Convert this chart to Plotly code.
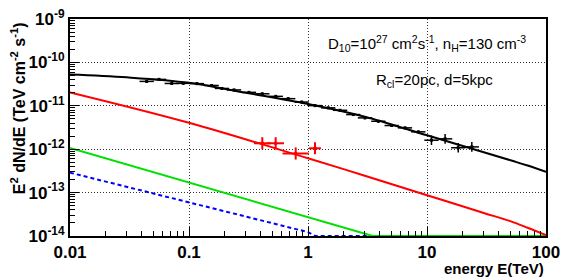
import numpy as np
import plotly.graph_objects as go

# ---------------- data ----------------
# model curves (E in TeV, E^2 dN/dE in TeV cm^-2 s^-1)
total_E = [0.01, 0.03, 0.1, 0.3, 1, 3, 10, 30, 52, 70, 100]
total_F = [5.25e-11, 4.52e-11, 3.39e-11, 2.0e-11, 1.1e-11, 5.6e-12, 2.09e-12,
           8.5e-13, 5.4e-13, 4.2e-13, 3.0e-13]

red_E = [0.01, 0.1, 1, 3, 10, 30, 50, 70, 100]
red_F = [2.04e-11, 4.07e-12, 6.17e-13, 2.45e-13, 8.7e-14, 3.4e-14, 2.2e-14,
         1.55e-14, 1.05e-14]

green_E = [0.01, 0.1, 1, 3.5, 100]
green_F = [1.07e-12, 1.7e-13, 2.63e-14, 1.0e-14, 1.0e-14]

blue_E = [0.01, 0.1, 1, 1.15, 100]
blue_F = [2.88e-13, 5.9e-14, 1.23e-14, 1.0e-14, 1.0e-14]

# black data points
obs_E = [0.0441, 0.056, 0.0716, 0.0895, 0.1167, 0.155, 0.189, 0.239, 0.319,
         0.413, 0.536, 0.682, 0.885, 1.145, 1.48, 1.86, 2.40, 3.01, 3.90,
         5.05, 6.53, 8.45, 10.9, 14.2, 18.3, 23.8]
obs_F = [3.65e-11, 4.06e-11, 3.27e-11, 3.29e-11, 3.24e-11, 2.94e-11, 2.51e-11,
         2.32e-11, 2.04e-11, 1.89e-11, 1.65e-11, 1.46e-11, 1.22e-11, 1.01e-11,
         8.96e-12, 7.88e-12, 6.28e-12, 5.27e-12, 4.4e-12, 3.51e-12, 3.1e-12,
         2.51e-12, 1.61e-12, 1.73e-12, 1.08e-12, 1.13e-12]
obs_dlogE = [0.06] * 22 + [0.06, 0.06, 0.06, 0.06]
obs_dlogF = [0.03] * 22 + [0.11, 0.11, 0.11, 0.11]

# red data points
red_pts_E = [0.413, 0.535, 0.788, 1.145]
red_pts_F = [1.37e-12, 1.37e-12, 7.96e-13, 1.05e-12]
red_dlogE = [0.07, 0.07, 0.11, 0.05]
red_dlogF = [0.14, 0.14, 0.14, 0.14]

x_tickvals = [0.01, 0.1, 1, 10, 100]
x_ticktext = ["0.01", "0.1", "1", "10", "100"]
y_tickvals = [1e-14, 1e-13, 1e-12, 1e-11, 1e-10, 1e-9]
y_ticktext = ["10<sup>-14</sup>", "10<sup>-13</sup>", "10<sup>-12</sup>",
              "10<sup>-11</sup>", "10<sup>-10</sup>", "10<sup>-9</sup>"]


def asym(vals, dlog):
    v = np.array(vals)
    d = np.array(dlog)
    return list(v * (10 ** d - 1)), list(v * (1 - 10 ** (-d)))


FONT = "Liberation Sans"
fig = go.Figure()

fig.add_trace(go.Scatter(x=blue_E, y=blue_F, mode="lines",
                         line=dict(color="#0000ff", width=2, dash="4px,3px")))
fig.add_trace(go.Scatter(x=green_E, y=green_F, mode="lines",
                         line=dict(color="#00e000", width=2)))
fig.add_trace(go.Scatter(x=red_E, y=red_F, mode="lines", line_shape="spline",
                         line=dict(color="#ff0000", width=2)))
fig.add_trace(go.Scatter(x=total_E, y=total_F, mode="lines", line_shape="spline",
                         line=dict(color="black", width=2)))

ep, em = asym(obs_E, obs_dlogE)
fp, fm = asym(obs_F, obs_dlogF)
fig.add_trace(go.Scatter(
    x=obs_E, y=obs_F, mode="markers",
    marker=dict(color="black", size=3, symbol="square"),
    error_x=dict(type="data", array=ep, arrayminus=em, color="black", thickness=1.5, width=0),
    error_y=dict(type="data", array=fp, arrayminus=fm, color="black", thickness=1.5, width=0)))

ep, em = asym(red_pts_E, red_dlogE)
fp, fm = asym(red_pts_F, red_dlogF)
fig.add_trace(go.Scatter(
    x=red_pts_E, y=red_pts_F, mode="markers",
    marker=dict(color="#ff0000", size=3, symbol="square"),
    error_x=dict(type="data", array=ep, arrayminus=em, color="#ff0000", thickness=2, width=0),
    error_y=dict(type="data", array=fp, arrayminus=fm, color="#ff0000", thickness=2, width=0)))

minor_x = [m * 10.0 ** k for k in range(-2, 2) for m in range(2, 10)]
minor_y = [m * 10.0 ** k for k in range(-14, -9) for m in range(2, 10)]

axis_common = dict(type="log", tickmode="array", ticks="inside", ticklen=9, tickwidth=1,
                   tickcolor="black", showline=True, linecolor="black", linewidth=2,
                   mirror=True, showgrid=True, gridcolor="#333333", griddash="1px,2px",
                   gridwidth=1, zeroline=False, automargin=False,
                   ticklabeloverflow="allow",
                   tickfont=dict(family=FONT, size=17, color="black"))

fig.update_xaxes(range=[-2, 2], tickvals=x_tickvals,
                 ticktext=["<b>%s</b>" % t for t in x_ticktext],
                 minor=dict(tickmode="array", tickvals=minor_x, ticks="inside",
                            ticklen=5, tickcolor="black", showgrid=False),
                 **axis_common)
fig.update_yaxes(range=[-14, -9], tickvals=y_tickvals,
                 ticktext=["<b>%s</b>" % t for t in y_ticktext],
                 minor=dict(tickmode="array", tickvals=minor_y, ticks="inside",
                            ticklen=5, tickcolor="black", showgrid=False),
                 **axis_common)

fig.add_annotation(text="<b>E<sup>2</sup> dN/dE (TeV cm<sup>-2</sup> s<sup>-1</sup>)</b>",
                   xref="paper", yref="paper", x=-0.109, y=0.995,
                   xanchor="center", yanchor="top", textangle=-90, showarrow=False,
                   font=dict(family=FONT, size=16, color="black"))
fig.add_annotation(text="<b>energy E(TeV)</b>", xref="paper", yref="paper", x=1.0, y=-0.1,
                   xanchor="right", yanchor="top", showarrow=False,
                   font=dict(family=FONT, size=15, color="black"))
fig.add_annotation(text="D<sub>10</sub>=10<sup>27</sup> cm<sup>2</sup>s<sup>-1</sup>, n<sub>H</sub>=130 cm<sup>-3</sup>",
                   xref="paper", yref="paper", x=0.75, y=0.885,
                   xanchor="center", yanchor="middle", showarrow=False,
                   font=dict(family=FONT, size=15, color="black"))
fig.add_annotation(text="R<sub>cl</sub>=20pc, d=5kpc",
                   xref="paper", yref="paper", x=0.765, y=0.715,
                   xanchor="center", yanchor="middle", showarrow=False,
                   font=dict(family=FONT, size=15, color="black"))

# page body adds an 8px offset, so margins are shifted to keep the frame in place
fig.update_layout(width=581, height=279, showlegend=False,
                  margin=dict(l=62, r=43, t=11, b=50.5),
                  paper_bgcolor="white", plot_bgcolor="white")

fig.write_html("out.html")
